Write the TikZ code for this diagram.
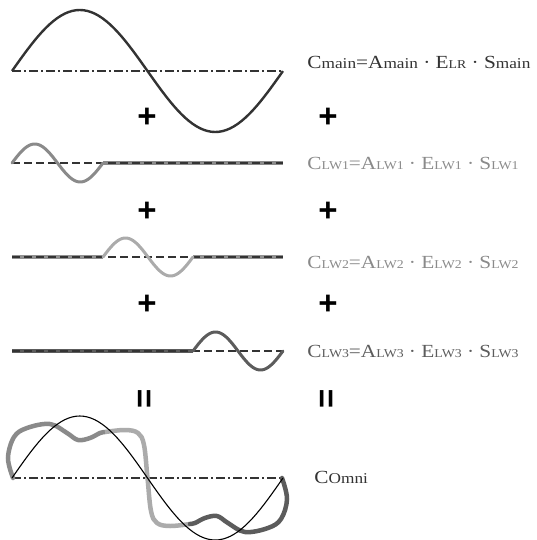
\documentclass[tikz,border=0pt]{standalone}
\usepackage{fontspec}
\setmainfont{Liberation Serif}
\setsansfont{Liberation Sans}
\definecolor{wavedark}{HTML}{333333}
\definecolor{lwone}{HTML}{8A8A8A}
\definecolor{lwtwo}{HTML}{ABABAB}
\definecolor{lwthree}{HTML}{5C5C5C}
\newcommand{\Sb}[1]{{\fontsize{15}{15}\selectfont #1}}
\newcommand{\Sc}[1]{{\fontsize{12}{12}\selectfont #1}}
\tikzset{
  axisdd/.style={wavedark,line width=1.2pt,dash pattern=on 9pt off 3pt on 2pt off 3pt},
  axisd/.style={wavedark,line width=1.2pt,dash pattern=on 8pt off 4pt},
  flatpart/.style={line width=4pt},
  wavelet/.style={line width=3pt,line cap=round,line join=round},
  eqtext/.style={anchor=base west,inner sep=0pt,font=\fontsize{18.5}{18.5}\selectfont,xscale=1.15},
  opsign/.style={inner sep=0pt,font=\fontsize{33}{33}\sffamily\bfseries}
}
\begin{document}
\begin{tikzpicture}[x=1pt,y=-1pt,line width=0.8pt]
\useasboundingbox (0,0) rectangle (537,540);
%%%%%%%%%%%%%%%%%%%% main wave %%%%%%%%%%%%%%%%%%%%
\draw[axisdd] (12,71) -- (283,71);
\draw[wavedark,line width=2.4pt] plot[domain=0:1,samples=73] ({12+\x*271},{71-61*sin(\x*360)});
\node[eqtext,wavedark] (cmain) at (307,69) {C\Sb{main}=A\Sb{main} · E\Sc{LR} · S\Sb{main}};
\node[opsign] (plusa) at (147,118) {+};
\node[opsign] (plusb) at (328,118) {+};
%%%%%%%%%%%%%%%%%%%% wavelet LW1 %%%%%%%%%%%%%%%%%%%%
\draw[flatpart,lwone] (103,163) -- (283,163);
\draw[axisd] (12,163) -- (283,163);
\draw[wavelet,lwone] plot[domain=0:1,samples=49] ({12+\x*91},{163-19*sin(\x*360)});
\node[eqtext,lwone] (clwa) at (307,170) {C\Sc{LW1}=A\Sc{LW1} · E\Sc{LW1} · S\Sc{LW1}};
\node[opsign] (plusc) at (147,212) {+};
\node[opsign] (plusd) at (328,212) {+};
%%%%%%%%%%%%%%%%%%%% wavelet LW2 %%%%%%%%%%%%%%%%%%%%
\draw[flatpart,lwtwo!85!black] (12,257) -- (103,257);
\draw[flatpart,lwtwo!85!black] (193,257) -- (283,257);
\draw[axisd] (12,257) -- (283,257);
\draw[wavelet,lwtwo] plot[domain=0:1,samples=49] ({103+\x*90},{257-19*sin(\x*360)});
\node[eqtext,lwone] (clwb) at (307,268) {C\Sc{LW2}=A\Sc{LW2} · E\Sc{LW2} · S\Sc{LW2}};
\node[opsign] (pluse) at (147,305) {+};
\node[opsign] (plusf) at (328,305) {+};
%%%%%%%%%%%%%%%%%%%% wavelet LW3 %%%%%%%%%%%%%%%%%%%%
\draw[flatpart,lwthree] (12,351) -- (193,351);
\draw[axisd] (12,351) -- (283,351);
\draw[wavelet,lwthree] plot[domain=0:1,samples=49] ({193+\x*90},{351-19*sin(\x*360)});
\node[eqtext,lwthree] (clwc) at (307,357) {C\Sc{LW3}=A\Sc{LW3} · E\Sc{LW3} · S\Sc{LW3}};
\node[opsign,rotate=90] (eqa) at (147,399) {=};
\node[opsign,rotate=90] (eqb) at (329,399) {=};
%%%%%%%%%%%%%%%%%%%% omni %%%%%%%%%%%%%%%%%%%%
\draw[axisdd] (12,478) -- (283,478);
\draw[lwone,line width=4.5pt,line cap=round] plot[smooth,tension=0.6] coordinates
  {(13,478) (8,458) (14,437) (27,428) (50,424) (67,433) (78,440) (90,438) (100,433) (105,432)};
\draw[lwtwo,line width=4.5pt] plot[smooth,tension=0.6] coordinates
  {(105,432) (125,430) (138,433) (144,445) (147.5,478) (151,511) (157,523) (170,526) (190,524)};
\draw[lwthree,line width=4.5pt,line cap=round] plot[smooth,tension=0.6] coordinates
  {(190,524) (195,523) (205,518) (217,516) (228,523) (245,532) (268,528) (281,519) (287,499) (282,478)};
\draw[black,line width=1.1pt] plot[domain=0:1,samples=73] ({12+\x*271},{478-62*sin(\x*360)});
\node[eqtext,wavedark] (comni) at (314,483) {C\Sb{Omni}};
\end{tikzpicture}
\end{document}
